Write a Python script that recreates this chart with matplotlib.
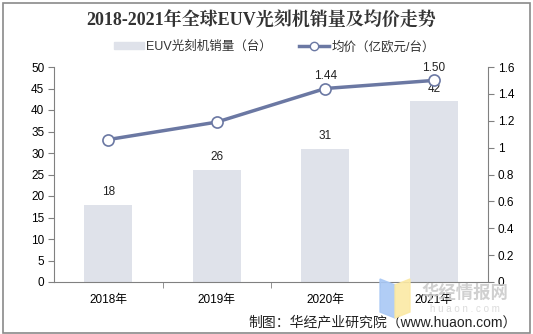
import matplotlib
matplotlib.use("Agg")
import matplotlib.pyplot as plt
from matplotlib.patches import Rectangle, Polygon
from matplotlib.lines import Line2D

plt.rcParams['font.family'] = ['Liberation Sans', 'Noto Sans CJK SC', 'DejaVu Sans']

years = ['2018年', '2019年', '2020年', '2021年']
sales = [18, 26, 31, 42]
prices = [1.06, 1.19, 1.44, 1.50]
price_labels_shown = [None, None, '1.44', '1.50']
title = '2018-2021年全球EUV光刻机销量及均价走势'
legend_bar = 'EUV光刻机销量（台）'
legend_line = '均价（亿欧元/台）'
source = '制图：华经产业研究院（www.huaon.com）'

W, H = 533, 334
fig = plt.figure(figsize=(W / 100, H / 100), dpi=100)
bar_color = '#dfe2ea'
line_color = '#6b78a3'
axis_color = '#808080'

ax = fig.add_axes([54 / W, 1 - 282 / H, (488 - 54) / W, (282 - 67) / H])
x = list(range(len(years)))
bars = ax.bar(x, sales, width=0.44, color=bar_color, zorder=1)
ax.set_xlim(-0.5, len(years) - 0.5)
ax.set_ylim(0, 50)
ax.set_yticks(range(0, 51, 5))
ax.set_xticks(x)
ax.set_xticklabels(years)
ax.set_xticks([i + 0.5 for i in range(len(years) - 1)], minor=True)
ax.tick_params(axis='x', which='major', length=0, pad=9, labelsize=8.5)
ax.tick_params(axis='x', which='minor', length=4, color=axis_color, direction='out')
ax.tick_params(axis='y', length=4, color=axis_color, labelsize=8.5, pad=3)
for s in ['top', 'right']:
    ax.spines[s].set_visible(False)
for s in ['left', 'bottom']:
    ax.spines[s].set_color(axis_color)
    ax.spines[s].set_linewidth(0.8)
for xi, v in zip(x, sales):
    ax.text(xi, v + 3, str(v), ha='center', va='center', fontsize=8.5, color='#222222')

ax2 = ax.twinx()
ax2.set_ylim(0, 1.6)
ax2.set_yticks([0, 0.2, 0.4, 0.6, 0.8, 1.0, 1.2, 1.4, 1.6])
ax2.set_yticklabels(['0', '0.2', '0.4', '0.6', '0.8', '1', '1.2', '1.4', '1.6'])
ax2.tick_params(axis='y', length=4, color=axis_color, labelsize=8.5, pad=3)
for s in ['top', 'left', 'bottom']:
    ax2.spines[s].set_visible(False)
ax2.spines['right'].set_color(axis_color)
ax2.spines['right'].set_linewidth(0.8)
ax2.plot(x, prices, color=line_color, lw=2.5, marker='o', markersize=8,
         markerfacecolor='white', markeredgecolor=line_color, markeredgewidth=1.2, zorder=3)
for xi, v, lab in zip(x, prices, price_labels_shown):
    if lab:
        ax2.text(xi, v + 0.095, lab, ha='center', va='center', fontsize=8.5, color='#222222')

fig.text(0.49, 1 - 20 / H, title, ha='center', va='center', fontsize=13, fontweight='bold',
         family=['Liberation Serif', 'Noto Serif CJK SC', 'Noto Sans CJK SC'], color='#333333')

handles = [Rectangle((0, 0), 1, 1, color=bar_color),
           Line2D([0], [0], color=line_color, lw=2.5, marker='o', markersize=6,
                  markerfacecolor='white', markeredgecolor=line_color)]
leg = fig.legend(handles, [legend_bar, legend_line], loc='center', bbox_to_anchor=(0.515, 1 - 47 / H),
                 ncol=2, frameon=False, fontsize=9, handlelength=2.4, handleheight=0.5,
                 columnspacing=2.2, handletextpad=0.2)
for t in leg.get_texts():
    t.set_color('#333333')

# watermark (light logo + text, as in the reference)
fig.patches.append(Polygon([[380 / W, 1 - 279 / H], [395 / W, 1 - 285 / H], [395 / W, 1 - 318 / H], [380 / W, 1 - 312 / H]],
                           closed=True, transform=fig.transFigure, color='#a9c8f5', alpha=0.9, zorder=5))
fig.patches.append(Polygon([[395 / W, 1 - 285 / H], [410 / W, 1 - 279 / H], [410 / W, 1 - 312 / H], [395 / W, 1 - 318 / H]],
                           closed=True, transform=fig.transFigure, color='#fbe9a4', alpha=0.9, zorder=5))
fig.text(465 / W, 1 - 293 / H, '华经情报网', ha='center', va='center', fontsize=12.5, fontweight='bold',
         color='#c8c8c8', alpha=0.85, family=['Noto Sans CJK SC'])
fig.text(465 / W, 1 - 309 / H, 'h u a o n . c o m', ha='center', va='center', fontsize=7,
         color='#d6d6d6', alpha=0.85)

fig.text(517 / W, 1 - 322 / H, source, ha='right', va='center', fontsize=10, color='#222222')

fig.patches.append(Rectangle((2.5 / W, 1.5 / H), (W - 6) / W, (H - 4.5) / H, transform=fig.transFigure,
                             fill=False, edgecolor='#8a8a8a', lw=1.2))

fig.savefig('out.png', dpi=100)
